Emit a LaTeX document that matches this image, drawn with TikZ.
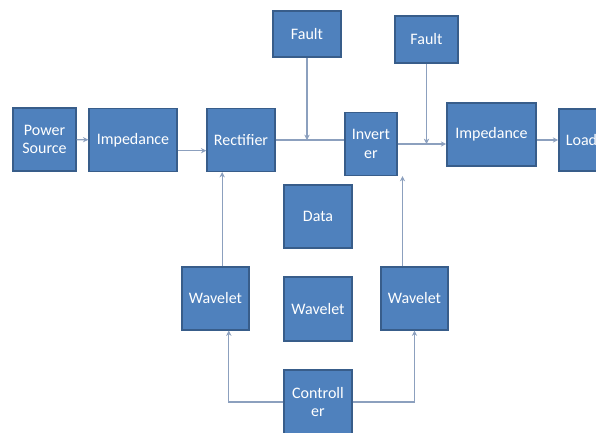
\documentclass[tikz,border=0pt]{standalone}
\usepackage{fontspec}
\setmainfont{Carlito}
\usetikzlibrary{arrows.meta}
\usetikzlibrary{positioning}
\definecolor{boxfill}{HTML}{4F81BD}
\definecolor{boxline}{HTML}{385D8A}
\definecolor{wire}{RGB}{140,160,190}

\begin{document}
\begin{tikzpicture}[x=0.75pt,y=-0.75pt]
		\clip (0,0) rectangle (596,432);
		\begin{scope}[every node/.style={rectangle,draw=boxline,line width=1.1pt,fill=boxfill,
			text=white,inner sep=0pt,align=center,font=\fontsize{12}{14}\selectfont,
			minimum width=51pt,minimum height=47pt}]
			\node[minimum width=47pt] (pwr) at (44.5,139.5) {Power\\Source};
			\node[minimum width=66pt] (impA) at (133,140) {Impedance};
			\node (rect) at (241,140) {Rectifier};
			\node[minimum height=34.5pt] (faultA) at (307,34) {Fault};
			\node[minimum width=47pt,minimum height=35pt] (faultB) at (426.5,39.5) {Fault};
			\node[minimum width=39pt] (inv) at (371,144) {Invert\\er};
			\node[minimum width=67pt] (impB) at (491.5,134.5) {Impedance};
			\node[minimum width=34pt,minimum height=46.5pt] (load) at (581.5,140) {Load};
			\node (data) at (318,216.5) {Data};
			\node[minimum width=50pt] (wavA) at (215.5,298.5) {Wavelet};
			\node[minimum height=48pt] (wavB) at (318,309) {Wavelet};
			\node[minimum width=50pt] (wavC) at (414.5,298.5) {Wavelet};
			\node[minimum height=48pt] (ctrl) at (318,402) {Controll\\er};
		\end{scope}

		\begin{scope}[wire,line width=0.9pt,>={Stealth[length=4pt,width=4pt]}]
			\path (pwr) edge[->] (impA);
			\path ([yshift=-8pt]impA.east) edge[->] ([yshift=-8pt]rect.west);
			\draw (rect.east) -- (rect -| inv.west);
			\draw[->] (faultA.south) -- (faultA |- rect);
			\draw[->] (inv.east) -- (inv -| impB.west);
			\draw[->] (faultB.south) -- (faultB |- inv);
			\draw[->] (impB.east |- load) -- (load.west);
			\draw[->] ([xshift=5pt]wavA.north) -- ([xshift=5pt]wavA.north |- rect.south);
			\draw[->] ([xshift=-9pt]wavC.north) -- ([xshift=-9pt]wavC.north |- inv.south);
			\draw[->] (ctrl.west) -| ([xshift=10pt]wavA.south);
			\draw[->] (ctrl.east) -| (wavC.south);
		\end{scope}
	\end{tikzpicture}
\end{document}
